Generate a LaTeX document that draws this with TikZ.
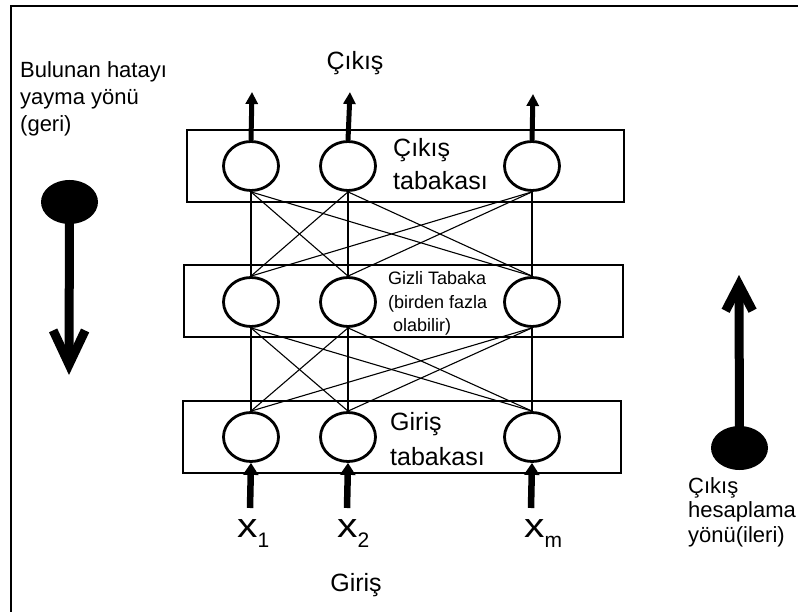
\documentclass[tikz,border=0pt]{standalone}
\usepackage{fontspec}
\setmainfont{Liberation Sans}
\usetikzlibrary{shapes.geometric,arrows.meta}
\begin{document}
\begin{tikzpicture}[x=1pt,y=-1pt,
  neuron/.style={ellipse,draw,line width=2.8pt,fill=white,minimum width=55pt,minimum height=49pt,inner sep=0pt},
  layerbox/.style={draw,line width=1.6pt,minimum height=72pt,inner sep=0pt},
  link/.style={line width=1.1pt},
  outarrow/.style={line width=5pt,-{Triangle[length=12pt,width=12pt]}},
  inarrow/.style={line width=6.5pt,-{Triangle[length=12pt,width=15pt]}},
  blob/.style={ellipse,fill=black,minimum width=57pt,minimum height=44pt,inner sep=0pt},
  bigarrow/.style={line width=9pt},
  lbl/.style={inner sep=0pt,anchor=base west,font=\fontsize{25}{25}\selectfont},
  small/.style={inner sep=0pt,anchor=base west,font=\fontsize{18}{18}\selectfont},
  side/.style={inner sep=0pt,anchor=base west,font=\fontsize{22}{22}\selectfont},
  xin/.style={inner sep=0pt,anchor=base west,font=\fontsize{34}{34}\selectfont}
]
\useasboundingbox (0,0) rectangle (798,612);
\fill[white] (0,0) rectangle (798,612);
\draw[line width=2.2pt] (11,612) -- (11,6) -- (798,6);

% layer boxes
\node[layerbox,minimum width=437pt] (ob) at (405.5,166) {};
\node[layerbox,minimum width=439pt] (hb) at (403.5,301) {};
\node[layerbox,minimum width=438pt] (ib) at (402,437) {};

% neurons
\node[neuron] (o1) at (251,166) {};
\node[neuron] (o2) at (348,166) {};
\node[neuron] (o3) at (532,166) {};
\node[neuron] (h1) at (251,302) {};
\node[neuron] (h2) at (348,302) {};
\node[neuron] (h3) at (532,302) {};
\node[neuron] (i1) at (251,437) {};
\node[neuron] (i2) at (348,437) {};
\node[neuron] (i3) at (532,437) {};

% connections
\foreach \a in {o1,o2,o3}{\foreach \b in {h1,h2,h3}{\draw[link] (\a.south) -- (\b.north);}}
\foreach \a in {h1,h2,h3}{\foreach \b in {i1,i2,i3}{\draw[link] (\a.south) -- (\b.north);}}

% output arrows
\coordinate (t1) at (252,92);
\coordinate (t2) at (350,92);
\coordinate (t3) at (533,94);
\draw[outarrow] (o1.north) -- (t1);
\draw[outarrow] (o2.north) -- (t2);
\draw[outarrow] (o3.north) -- (t3);

% input arrows
\coordinate (s1) at (250,508);
\coordinate (s2) at (347,508);
\coordinate (s3) at (531,508);
\draw[inarrow] (s1) -- (i1.south);
\draw[inarrow] (s2) -- (i2.south);
\draw[inarrow] (s3) -- (i3.south);

% direction arrows
\node[blob] (bl) at (69.5,202) {};
\coordinate (bltip) at (69,375);
\draw[bigarrow,-{Straight Barb[length=34pt,width=32pt]}] (bl.center) -- (bltip);
\node[blob] (br) at (739.5,448) {};
\coordinate (brtip) at (739,275);
\draw[bigarrow,-{Straight Barb[length=26pt,width=27pt]}] (br.center) -- (brtip);

% texts
\node[lbl,anchor=base] (cikis) at (355,70) {Çıkış};
\node[lbl] (ot1) at (393,157) {Çıkış};
\node[lbl] (ot2) at (393,190) {tabakası};
\node[small] (ht1) at (388,285) {Gizli Tabaka};
\node[small] (ht2) at (388,309) {(birden fazla};
\node[small] (ht3) at (393,332) {olabilir)};
\node[lbl] (it1) at (390,430) {Giriş};
\node[lbl] (it2) at (390,465) {tabakası};
\node[lbl,anchor=base] (giris) at (356,591) {Giriş};

\node[xin] (x1) at (237,537) {\scalebox{1.2}[1]{x}\raisebox{-10pt}{\fontsize{21}{21}\selectfont 1}};
\node[xin] (x2) at (337,537) {\scalebox{1.2}[1]{x}\raisebox{-10pt}{\fontsize{21}{21}\selectfont 2}};
\node[xin] (xm) at (524,537) {\scalebox{1.2}[1]{x}\raisebox{-10pt}{\fontsize{21}{21}\selectfont m}};

\node[side] (l1) at (20,78) {Bulunan hatayı};
\node[side] (l2) at (20,105) {yayma yönü};
\node[side] (l3) at (20,132) {(geri)};
\node[side] (r1) at (688,493) {Çıkış};
\node[side] (r2) at (688,517) {hesaplama};
\node[side] (r3) at (688,542) {yönü(ileri)};
\end{tikzpicture}
\end{document}
